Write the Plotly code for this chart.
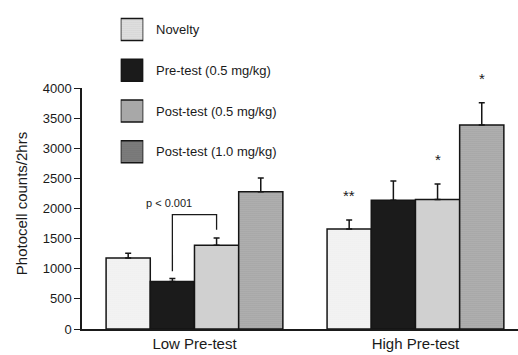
import plotly.graph_objects as go

# Group labels and series
groups = ["Low Pre-test", "High Pre-test"]
series = ["Novelty", "Pre-test (0.5 mg/kg)", "Post-test (0.5 mg/kg)", "Post-test (1.0 mg/kg)"]

novelty = [1180, 1660]
pre_test_05 = [790, 2140]
post_test_05 = [1390, 2150]
post_test_10 = [2280, 3390]

novelty_err = [80, 150]
pre_test_05_err = [50, 320]
post_test_05_err = [120, 260]
post_test_10_err = [230, 370]

y_ticks = [0, 500, 1000, 1500, 2000, 2500, 3000, 3500, 4000]

# significance marks: (group index, series index, label)
sig_marks = [(1, 0, "**"), (1, 2, "*"), (1, 3, "*")]
p_label = "p < 0.001"

values = [novelty, pre_test_05, post_test_05, post_test_10]
errors = [novelty_err, pre_test_05_err, post_test_05_err, post_test_10_err]

# fill styles (fine stippled greys)
styles = [
    dict(color="#eeeeee", pattern=dict(shape=".", bgcolor="#fcfcfc", fgcolor="#a0a0a0", size=2, solidity=0.3)),
    dict(color="#1b1b1b", pattern=dict(shape="")),
    dict(color="#c4c4c4", pattern=dict(shape=".", bgcolor="#ececec", fgcolor="#6a6a6a", size=2, solidity=0.5)),
    dict(color="#8c8c8c", pattern=dict(shape=".", bgcolor="#d4d4d4", fgcolor="#333333", size=2, solidity=0.6)),
]

W, H = 518, 355
ML, MR, MB = 82, 0, 26
plot_h = 246  # pixel height of the value axis
paper_h = H - MB


def py_to_paper(py):
    return (paper_h - py) / paper_h


fig = go.Figure()
x_pos = list(range(len(groups)))

for name, vals, errs, st in zip(series, values, errors, styles):
    fig.add_trace(go.Bar(
        x=x_pos, y=vals, name=name,
        marker=dict(color=st["color"], pattern=st["pattern"],
                    line=dict(color="#151515", width=1.5)),
        error_y=dict(type="data", symmetric=False, array=errs,
                     arrayminus=[0] * len(errs), color="#151515",
                     thickness=1.5, width=3),
        showlegend=False,
        xaxis="x", yaxis="y",
    ))

# Legend swatches as bars on a small auxiliary axis pair
fig.add_trace(go.Bar(
    x=[1, 1, 1, 1], y=[0, 1, 2, 3], orientation="h",
    width=0.54, offset=-0.27,
    marker=dict(
        color=[s["color"] for s in styles],
        pattern=dict(
            shape=[s["pattern"].get("shape", "") for s in styles],
            bgcolor=[s["pattern"].get("bgcolor", s["color"]) for s in styles],
            fgcolor=[s["pattern"].get("fgcolor", s["color"]) for s in styles],
            size=2,
            solidity=[s["pattern"].get("solidity", 0.3) for s in styles],
        ),
        line=dict(color="#151515", width=1.5),
    ),
    showlegend=False, hoverinfo="skip",
    xaxis="x2", yaxis="y2",
))

font_family = "Liberation Sans, Arial, sans-serif"
ink = "#1a1a1a"

annotations = []
# legend labels
leg_centers_px = [23, 64.7, 106.3, 148]
for name, cy in zip(series, leg_centers_px):
    annotations.append(dict(
        x=(154 - ML) / (W - ML - MR), y=py_to_paper(cy), xref="paper", yref="paper",
        text=name, showarrow=False, xanchor="left", yanchor="middle",
        font=dict(family=font_family, size=13, color=ink),
    ))

# y-axis title
annotations.append(dict(
    x=(21 - ML) / (W - ML - MR), y=py_to_paper(201.5), xref="paper", yref="paper",
    text="Photocell counts/2hrs", textangle=-90, showarrow=False,
    xanchor="center", yanchor="middle",
    font=dict(family=font_family, size=15, color=ink),
))

# bar offsets within a group (barmode group, bargap 0.2)
n = len(series)
slot = 0.8 / n
offsets = [-0.4 + slot * (i + 0.5) for i in range(n)]

# significance asterisks above error bars
for g, s, lab in sig_marks:
    top = values[s][g] + errors[s][g]
    annotations.append(dict(
        x=g + offsets[s], y=top, xref="x", yref="y", text=lab,
        showarrow=False, yanchor="bottom", yshift=14,
        font=dict(family=font_family, size=15, color=ink),
    ))

# p-value bracket between Pre-test and Post-test (0.5) in the low group
bx0 = 0 + offsets[1]
bx1 = 0 + offsets[2]
b_top = 1900
b_left = pre_test_05[0] + pre_test_05_err[0] + 120
b_right = post_test_05[0] + post_test_05_err[0] + 140
shapes = [dict(
    type="path", xref="x", yref="y",
    path=f"M {bx0} {b_left} L {bx0} {b_top} L {bx1} {b_top} L {bx1} {b_right}",
    line=dict(color=ink, width=1.3),
)]
annotations.append(dict(
    x=-0.117, y=b_top, xref="x", yref="y", text=p_label,
    showarrow=False, yanchor="bottom", yshift=4,
    font=dict(family=font_family, size=11, color=ink),
))

fig.update_layout(
    width=W, height=H,
    margin=dict(l=ML, r=MR, t=0, b=MB, pad=0),
    paper_bgcolor="white", plot_bgcolor="white",
    barmode="group", bargap=0.2, bargroupgap=0,
    font=dict(family=font_family, size=13, color=ink),
    annotations=annotations, shapes=shapes,
    xaxis=dict(
        range=[-0.509, 1.464], tickvals=x_pos, ticktext=groups,
        showline=True, linecolor=ink, linewidth=1.5, ticks="",
        showgrid=False, zeroline=False,
        tickfont=dict(family=font_family, size=15, color=ink),
        anchor="y",
    ),
    yaxis=dict(
        domain=[0, plot_h / paper_h], range=[0, 4000], tickvals=y_ticks,
        showline=True, linecolor=ink, linewidth=1.5,
        ticks="outside", ticklen=6, tickwidth=1.2, tickcolor=ink,
        showgrid=False, zeroline=False,
        tickfont=dict(family=font_family, size=13, color=ink),
        anchor="x",
    ),
    xaxis2=dict(
        domain=[(120.7 - ML) / (W - ML - MR), (143.3 - ML) / (W - ML - MR)],
        range=[0, 1], visible=False, anchor="y2", fixedrange=True,
    ),
    yaxis2=dict(
        domain=[py_to_paper(168.8), py_to_paper(2.2)],
        range=[3.5, -0.5], visible=False, anchor="x2", fixedrange=True,
    ),
)

fig.write_html("out.html")
